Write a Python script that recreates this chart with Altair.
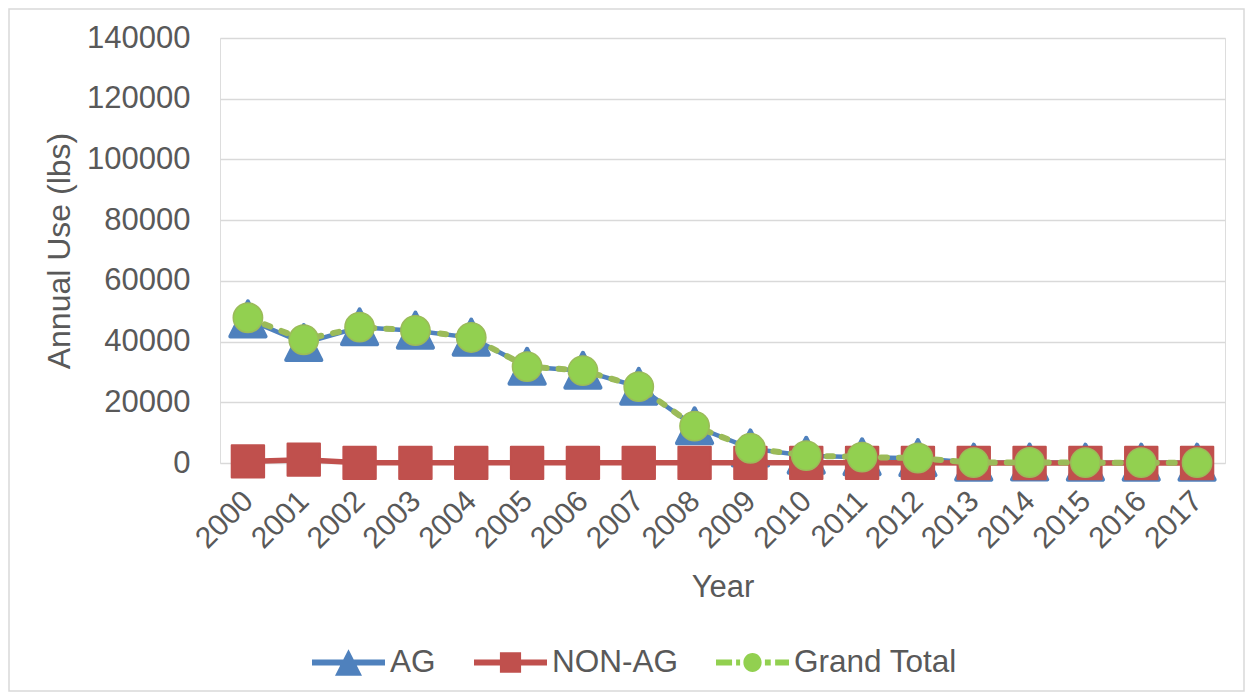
import altair as alt
import pandas as pd

years = [str(y) for y in range(2000, 2018)]
ag = [47300, 39500, 44700, 43600, 41300, 31700, 30400, 25100, 12100, 4800,
      2400, 1900, 1600, 100, 150, 100, 100, 100]
non_ag = [550, 1100, 50, 50, 50, 50, 50, 50, 50, 50, 50, 50, 50, 20, 20, 20, 20, 20]
grand_total = [47850, 40600, 44750, 43650, 41350, 31750, 30450, 25150, 12150, 4850,
               2450, 1950, 1650, 120, 170, 120, 120, 120]
series_names = ["AG", "NON-AG", "Grand Total"]
y_ticks = [0, 20000, 40000, 60000, 80000, 100000, 120000, 140000]

rows = []
for name, vals in zip(series_names, [ag, non_ag, grand_total]):
    for yr, v in zip(years, vals):
        rows.append({"Year": yr, "Value": v, "Series": name})
df = pd.DataFrame(rows)

BLUE = "#4F81BD"
RED = "#C0504D"
GREEN_LINE = "#9BBB59"
GREEN_FILL = "#92D050"
TXT = "#595959"
GRID = "#D9D9D9"
FONT = "Liberation Sans"

x_enc = alt.X("Year:O", sort=years, title="Year",
              axis=alt.Axis(labelAngle=-45, labelAlign="right", labelBaseline="middle",
                            labelFontSize=30, labelColor=TXT, labelPadding=33,
                            ticks=False, domain=False, grid=False,
                            titleFontSize=31, titleColor=TXT, titleFontWeight="normal",
                            titlePadding=19))
y_enc = alt.Y("Value:Q", scale=alt.Scale(domain=[0, 140000], nice=False),
              title="Annual Use (lbs)",
              axis=alt.Axis(values=y_ticks, format="d", labelFontSize=31, labelColor=TXT,
                            labelPadding=30, ticks=False, domain=False, grid=True,
                            gridColor=GRID, gridWidth=1.5,
                            titleFontSize=32, titleColor=TXT, titleFontWeight="normal",
                            titlePadding=10))

base = alt.Chart(df).encode(x=x_enc, y=y_enc)

def sub(name):
    return base.transform_filter(alt.datum.Series == name)

tri_path = "M0,-0.9L0.88,0.85L-0.88,0.85Z"

ag_line = sub("AG").mark_line(color=BLUE, strokeWidth=4.5)
ag_pts = sub("AG").mark_point(shape=tri_path, filled=True, fill=BLUE, stroke=BLUE,
                              strokeWidth=4, strokeJoin="round", size=1600, opacity=1)
non_line = sub("NON-AG").mark_line(color=RED, strokeWidth=5.5)
non_pts = sub("NON-AG").mark_point(shape="square", filled=True, fill=RED, stroke=RED,
                                   strokeWidth=2, strokeJoin="round", size=1050, opacity=1)
gt_line = sub("Grand Total").mark_line(color=GREEN_LINE, strokeWidth=6, strokeDash=[6, 12],
                                       strokeCap="round")
gt_pts = sub("Grand Total").mark_point(shape="circle", filled=True, fill=GREEN_FILL,
                                       stroke=GREEN_LINE, strokeWidth=1.5, size=860, opacity=1)

# legend symbols: line segment + marker (unit coordinates, span = 73 px)
line_rect = "M-1,-0.08H1V0.08H-1Z"
ag_sym = line_rect + "M0,-0.36L0.37,0.36L-0.37,0.36Z"
non_sym = line_rect + "M-0.29,-0.28H0.29V0.28H-0.29Z"
gt_sym = ("M-1,-0.08H-0.56V0.08H-1Z"
          "M-0.45,-0.08H-0.34V0.08H-0.45Z"
          "M-0.25,0A0.25,0.26 0 1,1 0.25,0A0.25,0.26 0 1,1 -0.25,0Z"
          "M0.34,-0.08H0.5V0.08H0.34Z"
          "M0.62,-0.08H1V0.08H0.62Z")

leg = dict(title=None, orient="none", direction="horizontal",
           legendX=92, legendY=588, symbolSize=5329,
           symbolStrokeWidth=0, labelFontSize=31.5, labelColor=TXT,
           labelFont=FONT, labelLimit=400, columnPadding=38, labelOffset=5)

legend_layer = alt.Chart(df).transform_filter("false").mark_point(filled=True, opacity=1).encode(
    color=alt.Color("Series:N",
                    scale=alt.Scale(domain=series_names, range=[BLUE, RED, GREEN_FILL]),
                    legend=alt.Legend(**leg)),
    shape=alt.Shape("Series:N",
                    scale=alt.Scale(domain=series_names, range=[ag_sym, non_sym, gt_sym]),
                    legend=alt.Legend(**leg)),
)

border = alt.Chart(pd.DataFrame({"a": [0]})).mark_rect(
    fill="transparent", stroke=GRID, strokeWidth=1.5
).encode(x=alt.value(-211), x2=alt.value(1024), y=alt.value(-29), y2=alt.value(653))

chart = alt.layer(border, ag_line, ag_pts, non_line, non_pts, gt_line, gt_pts, legend_layer).properties(
    width=1005, height=425,
    autosize=alt.AutoSizeParams(type="none"),
    padding={"left": 212, "top": 30, "right": 20, "bottom": 229},
    background="white",
).configure_view(stroke=None).configure(font=FONT)

chart.save("out.html", embed_options={"renderer": "svg", "actions": False})
